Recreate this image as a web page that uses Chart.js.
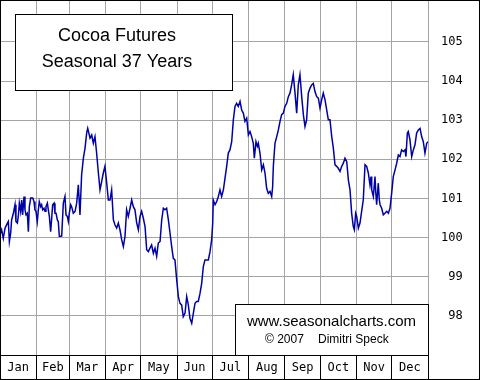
<!DOCTYPE html>
<html><head><meta charset="utf-8">
<script src="https://cdn.jsdelivr.net/npm/chart.js@4/dist/chart.umd.min.js"></script>
<style>html,body{margin:0;padding:0;background:#fff}#c{display:block}</style>
</head><body>
<canvas id="c" width="480" height="380"></canvas>
<script>
const months = ['Jan','Feb','Mar','Apr','May','Jun','Jul','Aug','Sep','Oct','Nov','Dec'];
const monthDays = [31,28,31,30,31,30,31,31,30,31,30,31];
const yTicks = [98,99,100,101,102,103,104,105];
const titleLines = ['Cocoa Futures','Seasonal 37 Years'];
const creditSite = 'www.seasonalcharts.com';
const creditYear = '\u00A9 2007';
const creditName = 'Dimitri Speck';

// day of year
const days = [0,1.4,2.8,4.3,5.7,7.1,8.0,9.1,9.9,11.4,12.8,13.6,14.8,15.6,16.5,17.6,18.5,19.3,20.5,21.3,22.2,23.3,24.2,25.0,26.2,27.9,29.0,29.8,30.7,31.8,32.7,33.5,34.7,35.5,36.4,37.5,38.4,39.2,40.4,41.2,42.1,43.2,44.1,44.9,46.1,46.9,47.8,48.9,49.7,50.6,52.6,54.0,55.4,56.3,57.4,58.3,59.1,60.3,61.1,62.5,64.0,
65.4,66.8,68.2,69.6,71.1,72.5,73.9,74.8,76.8,78.2,79.6,81.0,82.4,83.9,85.3,86.7,88.1,89.5,91.0,92.4,93.8,95.2,96.7,98.1,99.5,100.9,102.3,103.8,105.2,106.6,108.0,109.4,110.9,112.3,113.7,115.1,116.6,118.0,119.4,120.8,122.2,123.7,125.1,126.5,127.9,129.3,130.8,132.2,133.6,135.0,136.5,137.9,139.3,140.7,142.1,143.6,145.0,146.4,147.8,149.2,150.7,152.1,153.5,154.9,156.3,157.8,159.2,160.6,162.0,163.5,164.9,166.3,167.7,169.1,170.6,172.0,173.4,174.8,176.2,177.7,
179.1,180.5,181.4,181.9,183.4,184.8,186.2,187.6,189.0,190.5,191.9,193.3,194.7,196.1,197.6,199.0,200.4,201.8,203.2,204.7,206.1,207.5,208.9,210.4,211.8,213.2,214.6,216.0,216.9,218.3,219.5,220.3,221.7,223.2,224.6,226.0,227.4,228.8,230.3,231.7,232.5,233.1,234.5,236.0,237.4,238.8,240.2,241.6,243.0,244.5,245.9,247.3,248.7,250.1,251.6,253.0,254.4,255.8,257.3,258.7,260.1,261.5,262.9,264.4,265.8,267.2,268.6,270.1,271.5,272.9,274.3,275.7,277.2,278.6,280.0,281.4,282.9,284.3,285.7,287.1,288.5,290.0,291.4,292.8,294.2,295.7,297.1,298.5,299.9,301.3,302.2,303.3,304.2,305.6,307.0,308.4,309.8,311.3,312.7,314.1,315.5,316.4,317.0,318.4,319.8,320.4,321.2,322.6,323.5,324.1,325.5,326.9,328.3,329.8,331.2,332.6,334.0,335.4,336.9,338.3,339.7,341.1,342.5,344.0,345.4,346.2,347.4,348.2,349.6,351.1,352.5,353.9,355.3,356.8,358.2,359.6,361.0,362.4,363.9,365];

const values = [100.07,100.20,99.98,100.24,100.33,100.41,99.90,100.11,100.45,100.62,100.84,100.41,100.37,100.54,100.88,100.67,100.96,100.58,101.05,100.71,100.58,100.62,100.15,100.79,101.01,101.01,100.92,100.71,100.67,100.41,100.71,100.92,100.79,100.84,100.71,100.75,100.67,100.79,100.88,100.71,100.54,100.15,100.50,100.84,100.88,100.62,100.62,100.45,100.41,100.03,100.04,100.88,101.05,100.58,100.54,100.41,100.62,100.84,100.79,100.62,100.67,
100.88,101.35,100.58,101.60,102.03,102.28,102.67,102.79,102.54,102.62,102.41,102.58,102.16,101.65,101.22,101.43,101.65,101.82,101.39,100.96,100.96,101.22,100.45,100.32,100.24,100.37,100.20,99.94,99.77,100.03,100.71,100.54,100.75,100.96,100.79,100.71,100.37,100.20,100.54,100.67,100.50,100.28,99.69,99.64,99.73,99.81,99.60,99.73,99.52,99.86,99.90,100.45,100.75,100.71,100.75,100.45,100.11,99.77,99.47,99.43,98.92,98.49,98.32,98.28,97.98,98.07,98.49,98.28,97.94,97.81,98.07,98.32,98.37,98.37,98.58,98.83,99.26,99.43,99.43,99.43,
99.64,99.94,100.37,100.96,100.84,100.92,101.05,101.22,101.05,101.22,101.52,101.82,102.16,102.24,102.45,103.01,103.35,103.43,103.35,103.48,103.26,103.18,102.97,103.05,102.62,102.71,102.58,102.41,102.03,102.45,102.33,102.41,102.16,101.73,101.86,101.65,101.26,101.13,101.18,101.05,101.30,101.82,102.41,102.58,102.75,102.97,103.14,103.18,103.35,103.43,103.60,103.69,103.90,104.16,103.69,103.18,103.90,104.16,103.60,103.14,102.84,103.01,103.69,103.82,103.90,103.94,103.73,103.60,103.56,103.31,103.52,103.69,103.52,103.26,103.01,103.01,102.58,102.28,101.86,101.82,101.77,101.69,101.82,101.90,102.03,101.94,101.47,101.22,100.62,100.28,100.20,100.62,100.54,100.24,100.37,100.67,100.96,101.86,101.82,101.65,101.35,101.56,101.22,101.05,101.56,101.18,100.84,101.39,100.96,100.84,100.75,100.58,100.62,100.67,100.62,100.75,101.13,101.56,101.73,101.90,102.11,102.07,102.24,102.20,102.24,102.07,102.67,102.71,102.50,102.07,102.24,102.37,102.67,102.75,102.79,102.58,102.45,102.16,102.41,102.45];

const yMin = 97.0, yMax = 106.07;

// month boundaries and label positions (day of year)
const bounds = [0];
monthDays.forEach(d => bounds.push(bounds[bounds.length - 1] + d));
const mids = months.map((m, i) => bounds[i] + monthDays[i] / 2);
const boundSet = new Set(bounds);
const xTickVals = bounds.concat(mids).sort((a, b) => a - b);

const points = days.map((d, i) => ({x: d, y: values[i]}));

const GRID = '#a4a4a4';
const AXISFONT = {family: '"DejaVu Sans Mono", monospace', size: 12};

const decor = {
  id: 'decor',
  afterDraw(chart) {
    const c = chart.ctx;
    c.save();
    c.lineWidth = 1;
    c.strokeStyle = '#000';
    // title box
    c.fillStyle = '#fff';
    c.fillRect(15.5, 14.5, 217, 76);
    c.strokeRect(15.5, 14.5, 217, 76);
    c.fillStyle = '#000';
    c.font = '18px "Liberation Sans", Arial, sans-serif';
    c.textAlign = 'center';
    c.textBaseline = 'alphabetic';
    c.fillText(titleLines[0], 117, 41);
    c.fillText(titleLines[1], 117, 67);
    // credit box
    const r = chart.chartArea.right;
    const b = chart.chartArea.bottom;
    c.fillStyle = '#fff';
    c.fillRect(235.5, 304.5, r - 235, b - 304);
    c.strokeRect(235.5, 304.5, r - 235, b - 304);
    c.fillStyle = '#000';
    c.font = '15px "Liberation Sans", Arial, sans-serif';
    c.textAlign = 'center';
    c.fillText(creditSite, 331.5, 326);
    c.font = '12px "Liberation Sans", Arial, sans-serif';
    c.textAlign = 'left';
    c.fillText(creditYear, 265, 343);
    c.fillText(creditName, 318, 343);
    // outer frame
    c.strokeRect(0.5, 0.5, chart.width - 1, chart.height - 1);
    c.restore();
  }
};

new Chart(document.getElementById('c'), {
  type: 'line',
  data: {
    datasets: [{
      data: points,
      borderColor: '#0000a8',
      borderWidth: 1.5,
      pointRadius: 0,
      tension: 0,
      fill: false
    }]
  },
  options: {
    responsive: false,
    animation: false,
    layout: {padding: 0},
    plugins: {legend: {display: false}, tooltip: {enabled: false}},
    scales: {
      x: {
        type: 'linear',
        position: 'bottom',
        min: 0, max: 365,
        afterBuildTicks: s => { s.ticks = xTickVals.map(v => ({value: v})); },
        afterFit: s => { s.height = 25; s.paddingLeft = 0; s.paddingRight = 0; },
        grid: {
          color: ctx => (ctx.tick && boundSet.has(ctx.tick.value)) ? GRID : 'rgba(0,0,0,0)',
          tickColor: ctx => (ctx.tick && boundSet.has(ctx.tick.value)) ? '#000' : 'rgba(0,0,0,0)',
          tickLength: 25,
          lineWidth: 1
        },
        border: {display: true, color: '#000', width: 1},
        ticks: {
          autoSkip: false, maxRotation: 0, minRotation: 0,
          padding: -19,
          font: AXISFONT, color: '#000',
          callback: v => { const i = mids.indexOf(v); return i >= 0 ? months[i] : ''; }
        }
      },
      y: {
        type: 'linear',
        position: 'right',
        min: yMin, max: yMax,
        afterBuildTicks: s => { s.ticks = yTicks.map(v => ({value: v})); },
        afterFit: s => { s.width = 52; s.paddingTop = 0; s.paddingBottom = 0; },
        grid: {color: GRID, drawTicks: true, tickLength: 13, tickColor: 'rgba(0,0,0,0)', lineWidth: 1},
        border: {display: false},
        ticks: {padding: 0, crossAlign: 'near', font: AXISFONT, color: '#000',
          callback: v => String(v).padStart(3, ' ')}
      }
    }
  },
  plugins: [decor]
});
</script>
</body></html>
